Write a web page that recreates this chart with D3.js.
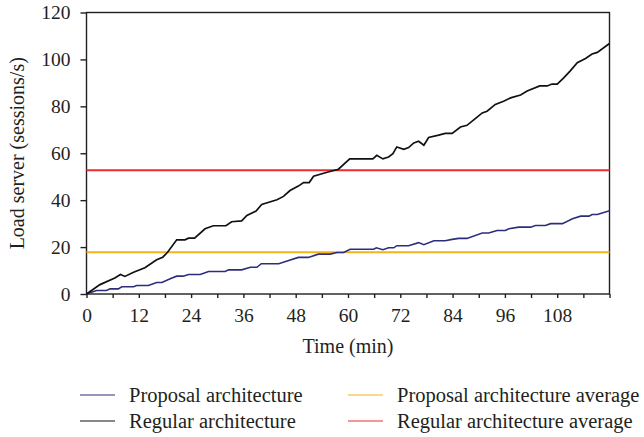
<!DOCTYPE html>
<html>
<head>
<meta charset="utf-8">
<script src="https://cdn.jsdelivr.net/npm/d3@7"></script>
<style>
  body { margin: 0; background: #fff; }
  text { font-family: "Liberation Serif", "DejaVu Serif", serif; fill: #231f20; }
</style>
</head>
<body>
<div id="chart"></div>
<script>
// ------------- DATA -------------
var regularTime = [0, 3.1, 6.5, 7.8, 8.8, 10.8, 13.4, 16.1, 17.5, 18.6, 20.7, 22.6, 23.4, 24.8, 27.2, 29.1, 32, 33.3, 35.6, 36.8, 38.9, 40.2, 43.7, 45.2, 46.7, 48.6, 49.8, 51.1, 52.1, 54.8, 57.8, 60.4, 65.7, 66.6, 68, 69.3, 70.3, 71.2, 72.8, 73.9, 75.1, 76.2, 77.4, 78.5, 80.8, 82.3, 83.9, 85.8, 87.3, 89.2, 90.8, 91.9, 93.8, 95.7, 97.3, 99.6, 101.1, 104, 105.7, 106.8, 108, 109.5, 111, 112.6, 114.5, 116, 117.2, 120];
var regularLoad = [0, 4.0, 6.8, 8.3, 7.5, 9.3, 11.2, 14.6, 15.7, 17.8, 23.1, 23.1, 23.8, 23.8, 27.8, 29.1, 29.1, 30.8, 31.2, 33.5, 35.4, 38.2, 40.2, 41.6, 44.1, 46.0, 47.5, 47.5, 50.2, 51.7, 53.2, 57.6, 57.6, 59.1, 57.6, 58.4, 59.8, 62.7, 61.7, 62.4, 64.4, 65.1, 63.4, 66.7, 67.7, 68.5, 68.5, 71.2, 71.9, 74.8, 77.2, 77.9, 80.8, 82.2, 83.6, 84.8, 86.5, 88.7, 88.7, 89.5, 89.5, 92.1, 95.1, 98.6, 100.4, 102.3, 103.0, 106.8];

var proposalTime = [0, 2.3, 4.6, 5.4, 7.3, 8.1, 10.8, 11.5, 14.2, 16.1, 17.3, 19.2, 20.7, 22.2, 23.4, 26.1, 28, 31.8, 32.6, 35.6, 37.6, 39.1, 40.1, 44.1, 46.4, 48.6, 50.9, 53.2, 55.9, 57.5, 59, 60.5, 65.9, 66.5, 68, 69.3, 70.5, 71.2, 73.9, 76.2, 77.4, 79.7, 82.3, 83.9, 85.4, 87.3, 90.8, 92.3, 94.2, 96.1, 96.9, 99.2, 101.9, 103, 105.3, 106.5, 109.2, 111.5, 113.4, 115.3, 116, 117.2, 120];
var proposalLoad = [0, 1.5, 1.5, 2.2, 2.2, 3.1, 3.1, 3.6, 3.6, 4.9, 4.9, 6.5, 7.6, 7.6, 8.3, 8.3, 9.6, 9.6, 10.3, 10.3, 11.4, 11.4, 12.9, 12.9, 14.3, 15.6, 15.6, 17.0, 17.0, 17.7, 17.7, 19.1, 19.1, 19.7, 18.9, 19.7, 19.7, 20.6, 20.6, 21.9, 21.0, 22.7, 22.7, 23.3, 23.7, 23.7, 26.0, 26.0, 27.1, 27.1, 27.8, 28.5, 28.5, 29.2, 29.2, 30.0, 30.0, 32.1, 33.2, 33.2, 33.9, 33.9, 35.5];

var proposalAverage = 17.8;
var regularAverage = 52.8;

var xTickLabels = [0, 12, 24, 36, 48, 60, 72, 84, 96, 108];
var yTickLabels = [0, 20, 40, 60, 80, 100, 120];

var legendNames = ["Proposal architecture", "Regular architecture", "Proposal architecture average", "Regular architecture average"];
var legendColors = ["#2e2d7c", "#111111", "#f2b31b", "#ee2b2f"];

// ------------- SVG -------------
var width = 644;
var height = 437;

var svg = d3.select("#chart")
    .append("svg")
    .attr("width", width)
    .attr("height", height);

var x = d3.scaleLinear().domain([0, 120]).range([86.5, 609.5]);
var y = d3.scaleLinear().domain([0, 120]).range([294, 12.5]);

// frame
svg.append("rect")
    .attr("x", x(0)).attr("y", y(120))
    .attr("width", x(120) - x(0)).attr("height", y(0) - y(120))
    .attr("fill", "none")
    .attr("stroke", "#231f20")
    .attr("stroke-width", 1.4);

// x axis : ticks every 6, labels every 12
var xAxis = d3.axisBottom(x)
    .tickValues(d3.range(0, 121, 6))
    .tickSize(4)
    .tickFormat(function (d) { return xTickLabels.indexOf(d) >= 0 ? d : ""; });

var gx = svg.append("g")
    .attr("transform", "translate(0," + y(0) + ")")
    .call(xAxis);
gx.select(".domain").remove();
gx.selectAll("line").attr("stroke", "#231f20").attr("stroke-width", 1.4);
gx.selectAll("text")
    .attr("dy", "0.32em")
    .attr("y", 22)
    .style("font-size", "19.5px")
    .style("font-family", "Liberation Serif");

var yAxis = d3.axisLeft(y)
    .tickValues(yTickLabels)
    .tickSize(6)
    .tickPadding(10);

var gy = svg.append("g")
    .attr("transform", "translate(" + x(0) + ",0)")
    .call(yAxis);
gy.select(".domain").remove();
gy.selectAll("line").attr("stroke", "#231f20").attr("stroke-width", 1.4);
gy.selectAll("text")
    .style("font-size", "19.5px")
    .style("font-family", "Liberation Serif");

// axis titles
svg.append("text")
    .attr("x", (x(0) + x(120)) / 2)
    .attr("y", 353)
    .attr("text-anchor", "middle")
    .style("font-size", "20px")
    .text("Time (min)");

svg.append("text")
    .attr("transform", "translate(24," + (y(0) + y(120)) / 2 + ") rotate(-90)")
    .attr("text-anchor", "middle")
    .style("font-size", "20px")
    .text("Load server (sessions/s)");

// average lines
svg.append("line")
    .attr("x1", x(0)).attr("x2", x(120))
    .attr("y1", y(proposalAverage)).attr("y2", y(proposalAverage))
    .attr("stroke", legendColors[2])
    .attr("stroke-width", 2);

svg.append("line")
    .attr("x1", x(0)).attr("x2", x(120))
    .attr("y1", y(regularAverage)).attr("y2", y(regularAverage))
    .attr("stroke", legendColors[3])
    .attr("stroke-width", 2);

// series lines
var line = d3.line()
    .x(function (d) { return x(d[0]); })
    .y(function (d) { return y(d[1]); });

svg.append("path")
    .datum(d3.zip(proposalTime, proposalLoad))
    .attr("d", line)
    .attr("fill", "none")
    .attr("stroke", legendColors[0])
    .attr("stroke-width", 1.6);

svg.append("path")
    .datum(d3.zip(regularTime, regularLoad))
    .attr("d", line)
    .attr("fill", "none")
    .attr("stroke", legendColors[1])
    .attr("stroke-width", 1.7);

// legend
var legendPos = [[80, 395], [80, 421], [348, 395], [348, 421]];

var legend = svg.selectAll(".legend")
    .data(legendNames)
    .enter().append("g")
    .attr("class", "legend")
    .attr("transform", function (d, i) { return "translate(" + legendPos[i][0] + "," + legendPos[i][1] + ")"; });

legend.append("line")
    .attr("x1", 0).attr("x2", 35)
    .attr("y1", 0).attr("y2", 0)
    .attr("stroke", function (d, i) { return legendColors[i]; })
    .attr("stroke-width", 1.2);

legend.append("text")
    .attr("x", 49)
    .attr("dy", "0.33em")
    .style("font-size", "20.5px")
    .text(function (d) { return d; });
</script>
</body>
</html>
